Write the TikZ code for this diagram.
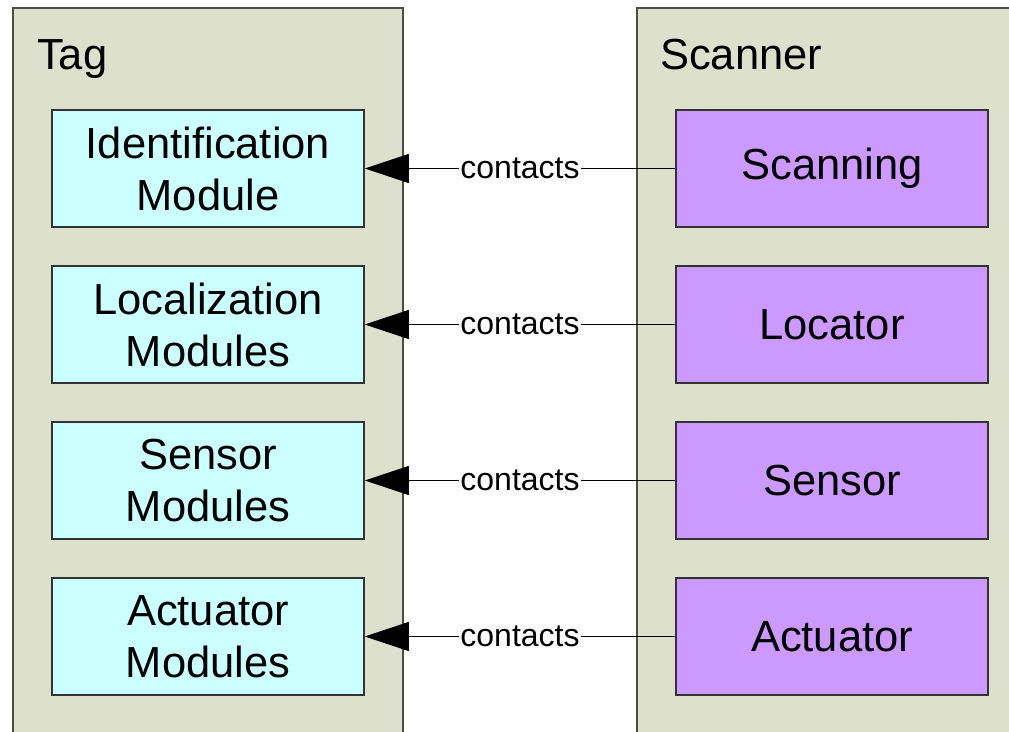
\documentclass[tikz,border=0pt]{standalone}
\usepackage{fontspec}
\setmainfont{Liberation Sans}
\usetikzlibrary{arrows.meta}
\definecolor{framegray}{RGB}{221,224,204}
\definecolor{tagcyan}{RGB}{204,255,255}
\definecolor{scanviolet}{RGB}{204,153,255}

\begin{document}
\begin{tikzpicture}[x=1pt,y=1pt,line join=miter,
    >={Triangle[length=44pt,width=29pt]},
    part/.style={draw=black!70,line width=1.5pt,fill=framegray},
    title/.style={anchor=base west,inner sep=0pt,font=\fontsize{43.5}{50}\selectfont},
    tagbox/.style={draw=black!80,line width=1.5pt,fill=tagcyan,minimum width=312pt,
      minimum height=117pt,inner sep=0pt,align=center,font=\fontsize{43.5}{52}\selectfont},
    scanbox/.style={tagbox,fill=scanviolet},
    contact/.style={fill=white,inner sep=1.5pt,font=\fontsize{32}{36}\selectfont}]
  \useasboundingbox (0,0) rectangle (1009,731);
  \clip (0,0) rectangle (1009,731);
  % the two device frames run past the page edges
  \draw[part] (13,-20) rectangle (403,723);
  \draw[part] (637,-20) rectangle (1040,723);
  \node[title] (tag) at (37,661) {Tag};
  \node[title] (scanner) at (660,661) {Scanner};
  % module rows
  \foreach \i/\left/\right in {0/{Identification\\Module}/Scanning,
                               1/{Localization\\Modules}/Locator,
                               2/{Sensor\\Modules}/Sensor,
                               3/{Actuator\\Modules}/Actuator} {
    \node[tagbox] (t\i) at (208,562.5-156*\i) {\left};
    \node[scanbox] (s\i) at (832,562.5-156*\i) {\right};
    \draw[->,line width=1pt] (s\i.west) -- node[contact] {contacts} (t\i.east);
  }
\end{tikzpicture}
\end{document}
